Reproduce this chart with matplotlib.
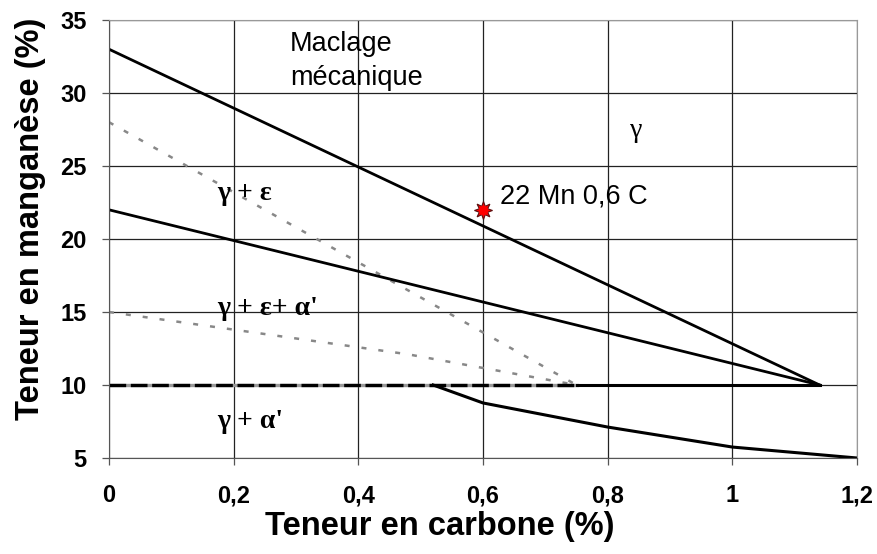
import matplotlib
matplotlib.use("Agg")
import matplotlib.pyplot as plt
from matplotlib.ticker import FuncFormatter

# --- data ---
upper_x = [0.0, 1.14]
upper_y = [33.0, 10.0]
mid_x = [0.0, 1.14]
mid_y = [22.0, 10.0]
gray1_x = [0.0, 0.75]
gray1_y = [28.0, 10.0]
gray2_x = [0.0, 0.48, 0.75]
gray2_y = [15.0, 12.1, 10.0]
h10_dash_x = [0.0, 0.75]
h10_dash_y = [10.0, 10.0]
h10_solid_x = [0.75, 1.14]
h10_solid_y = [10.0, 10.0]
low_x = [0.52, 0.6, 0.8, 1.0, 1.2]
low_y = [10.0, 8.77, 7.12, 5.75, 5.0]
point_x = [0.6]
point_y = [22.0]
xticks = [0, 0.2, 0.4, 0.6, 0.8, 1.0, 1.2]
yticks = [5, 10, 15, 20, 25, 30, 35]

narrow = ['Liberation Sans Narrow', 'Liberation Sans', 'DejaVu Sans']
sans = ['Liberation Sans', 'DejaVu Sans']
serif = ['Liberation Serif', 'DejaVu Serif']

fig = plt.figure(figsize=(8.77, 5.54), dpi=100)
ax = fig.add_axes([109/877, 96/554, 748/877, 438/554])

ax.set_xlim(0, 1.2)
ax.set_ylim(5, 35)
ax.set_xticks(xticks)
ax.set_yticks(yticks)
ax.grid(True, color='#222222', linewidth=0.9)
ax.set_axisbelow(True)

for s in ['top', 'right']:
    ax.spines[s].set_color('#999999')
for s in ['left', 'bottom']:
    ax.spines[s].set_color('#555555')
ax.tick_params(direction='out', length=5, color='#555555', width=0.9)
ax.tick_params(axis='y', pad=11)
ax.tick_params(axis='x', pad=14)

fmt = FuncFormatter(lambda v, p: ('%g' % v).replace('.', ','))
ax.xaxis.set_major_formatter(fmt)
for lab in ax.get_xticklabels() + ax.get_yticklabels():
    lab.set_family(narrow)
    lab.set_fontweight('bold')
    lab.set_fontsize(17)

# lines
ax.plot(gray1_x, gray1_y, color='#888888', lw=1.8, ls=(0, (2, 4.8)))
ax.plot(gray2_x, gray2_y, color='#888888', lw=1.8, ls=(0, (2, 4.8)))
ax.plot(h10_dash_x, h10_dash_y, color='#999999', lw=2.4)
ax.plot(h10_dash_x, h10_dash_y, color='black', lw=2.4, ls=(0, (5, 1.4)))
ax.plot(h10_solid_x, h10_solid_y, color='black', lw=2.2)
ax.plot(upper_x, upper_y, color='black', lw=2.0)
ax.plot(mid_x, mid_y, color='black', lw=2.0)
ax.plot(low_x, low_y, color='black', lw=2.2)
ax.plot(point_x, point_y, marker=(8, 1, 0), ms=13, color='red',
        markeredgecolor='#5a1010', markeredgewidth=0.8, ls='none', zorder=5)
ax.plot(point_x, point_y, marker='o', ms=6, color='red', ls='none', zorder=6)

# annotations
ax.text(0.627, 22.9, '22 Mn 0,6 C', family=sans, fontsize=19.5, va='center', ha='left')
ax.text(0.29, 32.2, 'Maclage\nmécanique', family=sans, fontsize=19.5, va='center',
        ha='left', linespacing=1.42)
ax.text(0.845, 27.4, 'γ', family=serif, fontsize=20, va='center', ha='center')
ax.text(0.174, 23.1, 'γ + ε', family=serif, fontsize=20, va='center', ha='left',
        fontweight='bold')
ax.text(0.174, 15.25, "γ + ε+ α'", family=serif, fontsize=20, va='center', ha='left',
        fontweight='bold')
ax.text(0.174, 7.5, "γ + α'", family=serif, fontsize=20, va='center', ha='left',
        fontweight='bold')

fig.text(440/877, 1 - 527/554, 'Teneur en carbone (%)', family=narrow, fontweight='bold',
         fontsize=23.5, ha='center', va='center')
fig.text(31/877, 1 - 219/554, 'Teneur en manganèse (%)', family=narrow, fontweight='bold',
         fontsize=23.5, ha='center', va='center', rotation=90)

fig.savefig('out.png', dpi=100)
